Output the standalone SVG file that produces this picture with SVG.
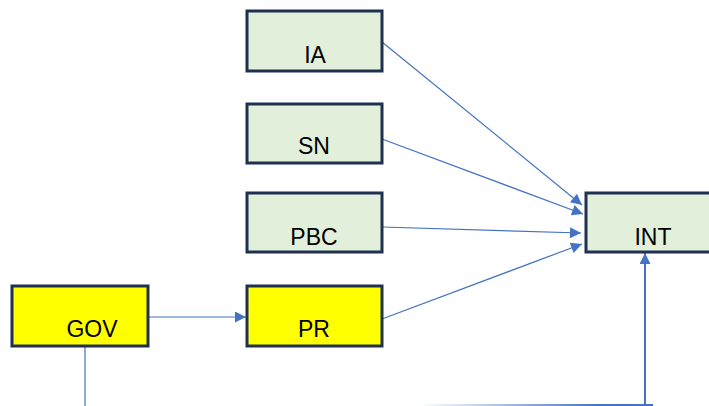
<svg xmlns="http://www.w3.org/2000/svg" width="709" height="406" viewBox="0 0 709 406">
  <style>
    .box { stroke: #1F3050; stroke-width: 3; }
    .green { fill: #E2EFDA; }
    .yellow { fill: #FFFF00; }
    .label { font-family: "Liberation Sans", Arial, sans-serif; font-size: 23px; fill: #000; text-anchor: middle; }
    .link { stroke: #4472C4; stroke-width: 1.2; fill: none; }
    .thick { stroke-width: 2; }
  </style>
  <defs>
    <marker id="arrow" viewBox="0 0 10 10" refX="10" refY="5" markerWidth="13" markerHeight="11" markerUnits="userSpaceOnUse" orient="auto">
      <path d="M0,0 L10,5 L0,10 Z" fill="#4472C4"/>
    </marker>
    <linearGradient id="fade" x1="420" y1="0" x2="600" y2="0" gradientUnits="userSpaceOnUse">
      <stop offset="0" stop-color="#4472C4" stop-opacity="0"/>
      <stop offset="1" stop-color="#4472C4" stop-opacity="1"/>
    </linearGradient>
  </defs>
  <rect width="709" height="406" fill="#FFFFFF"/>

  <g id="connectors">
    <line class="link" x1="382" y1="42" x2="582" y2="205" marker-end="url(#arrow)"/>
    <line class="link" x1="382" y1="139" x2="583" y2="214" marker-end="url(#arrow)"/>
    <line class="link" x1="382" y1="227" x2="581" y2="233" marker-end="url(#arrow)"/>
    <line class="link" x1="382" y1="319" x2="582" y2="244" marker-end="url(#arrow)"/>
    <line class="link" x1="148" y1="317" x2="246" y2="317" marker-end="url(#arrow)"/>
    <line class="link" x1="85" y1="347" x2="85" y2="406"/>
    <line x1="420" y1="405" x2="653" y2="405" stroke="url(#fade)" stroke-width="2"/>
    <line class="link thick" x1="645" y1="405" x2="645" y2="253" marker-end="url(#arrow)"/>
  </g>

  <g id="node-ia">
    <rect class="box green" x="247" y="11" width="135" height="60"/>
    <text class="label" x="315" y="63">IA</text>
  </g>
  <g id="node-sn">
    <rect class="box green" x="247" y="104" width="135" height="59"/>
    <text class="label" x="314" y="154">SN</text>
  </g>
  <g id="node-pbc">
    <rect class="box green" x="247" y="193" width="135" height="59"/>
    <text class="label" x="314" y="245">PBC</text>
  </g>
  <g id="node-pr">
    <rect class="box yellow" x="247" y="286" width="135" height="60"/>
    <text class="label" x="314" y="337">PR</text>
  </g>
  <g id="node-gov">
    <rect class="box yellow" x="12" y="286" width="136" height="60"/>
    <text class="label" x="92" y="337">GOV</text>
  </g>
  <g id="node-int">
    <rect class="box green" x="586" y="193" width="136" height="59"/>
    <text class="label" x="653" y="245">INT</text>
  </g>
</svg>
